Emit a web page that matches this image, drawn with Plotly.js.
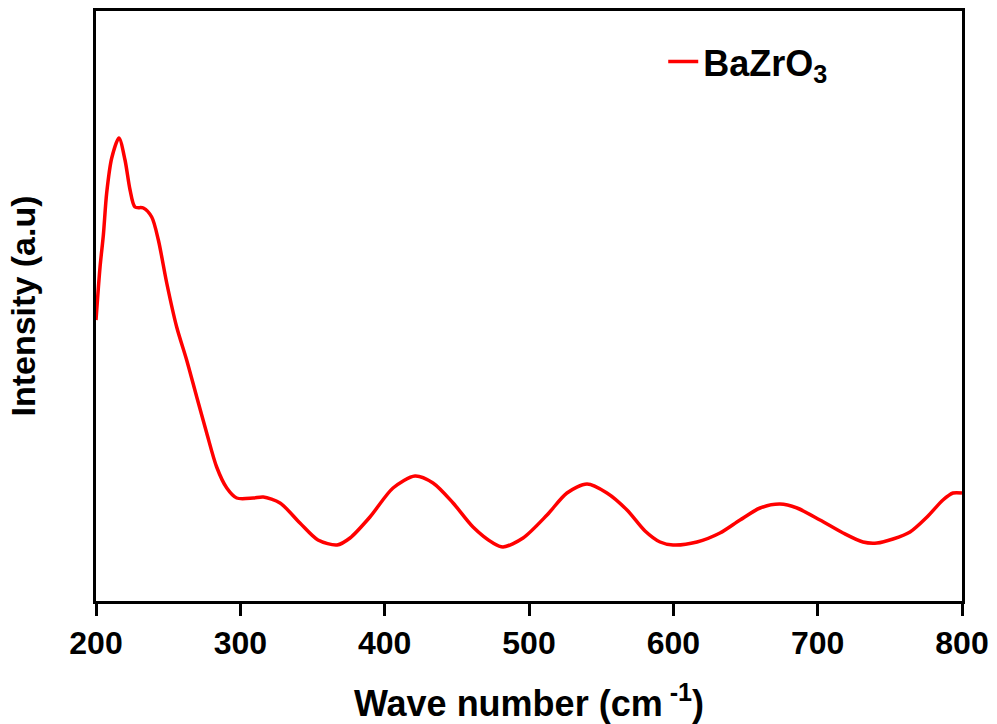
<!DOCTYPE html>
<html>
<head>
<meta charset="utf-8">
<script src="https://cdn.plot.ly/plotly-3.0.1.min.js"></script>
<style>html,body{margin:0;padding:0;background:#fff;}</style>
</head>
<body>
<div id="chart" style="width:997px;height:724px;"></div>
<script>
// Wave number (cm^-1)
const waveNumber = [200, 202.8, 205.1, 207.4, 210.9, 215.9, 220.1, 223.6, 227.0, 232.8, 238.6, 243.2, 249.0, 255.9, 262.8, 269.8, 276.7, 283.6, 290.6, 297.5, 309.0, 315.9, 327.5, 341.3, 353.8, 367.0, 376.0, 389.8, 405.8, 421.0, 433.5, 447.4, 461.2, 475.1, 482.0, 495.9, 512.5, 526.3, 540.2, 554.0, 567.9, 580.4, 590.8, 599.8, 616.4, 632.3, 646.2, 660.1, 673.9, 685.7, 701.6, 717.6, 731.4, 741.1, 752.2, 764.0, 775.8, 786.8, 793.8, 800];
// Intensity (arbitrary units)
const intensity = [280, 333, 365, 407, 442, 462, 440, 410, 393, 392, 383, 360, 317, 273, 240, 203, 167, 133, 112, 102, 102, 103, 97, 77, 60, 55, 62, 83, 112, 124, 117, 97, 73, 57, 53, 62, 85, 107, 116, 107, 90, 69, 58, 55, 58, 67, 80, 92, 96, 92, 80, 67, 58, 57, 61, 68, 83, 100, 107, 107];
const xTicks = [200, 300, 400, 500, 600, 700, 800];
const seriesName = 'BaZrO<sub>3</sub>';

const font = 'Arial, "Liberation Sans", sans-serif';

const trace = {
  x: waveNumber,
  y: intensity,
  type: 'scatter',
  mode: 'lines',
  name: seriesName,
  line: {color: '#ff0000', width: 3.5, shape: 'spline', smoothing: 0.8}
};

const layout = {
  width: 997,
  height: 724,
  margin: {l: 96, r: 35, t: 11, b: 123},
  paper_bgcolor: '#ffffff',
  plot_bgcolor: '#ffffff',
  showlegend: true,
  legend: {
    x: 0.655, y: 0.965, xanchor: 'left', yanchor: 'top',
    bgcolor: 'rgba(0,0,0,0)',
    font: {family: font, size: 36, color: '#000', weight: 'bold'}
  },
  xaxis: {
    range: [200, 800],
    tickvals: xTicks,
    ticktext: xTicks.map(String),
    ticks: 'outside', ticklen: 12, tickwidth: 3, tickcolor: '#000',
    showline: true, linecolor: '#000', linewidth: 3, mirror: true,
    showgrid: false, zeroline: false,
    tickfont: {family: font, size: 32, color: '#000', weight: 'bold'},
    title: {text: 'Wave number (cm<sup> -1</sup>)', standoff: 31,
            font: {family: font, size: 36, color: '#000', weight: 'bold'}}
  },
  yaxis: {
    range: [-1, 589],
    showticklabels: false, ticks: '',
    showline: true, linecolor: '#000', linewidth: 3, mirror: true,
    showgrid: false, zeroline: false,
    title: {text: 'Intensity (a.u)', standoff: 48,
            font: {family: font, size: 34, color: '#000', weight: 'bold'}}
  }
};

Plotly.newPlot('chart', [trace], layout, {displayModeBar: false, staticPlot: true});
</script>
</body>
</html>
